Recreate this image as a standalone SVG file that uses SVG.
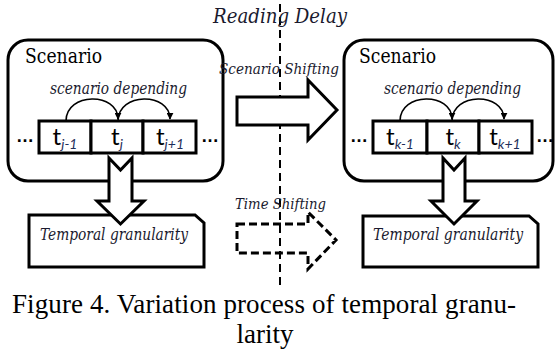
<svg xmlns="http://www.w3.org/2000/svg" width="556" height="358" viewBox="0 0 556 358">
<style>
.box{fill:#fff;stroke:#000;stroke-width:3}
.cell{fill:#fff;stroke:#000;stroke-width:3}
.arrow{fill:#fff;stroke:#000;stroke-width:3;stroke-linejoin:miter}
.darrow{fill:none;stroke:#000;stroke-width:3;stroke-dasharray:8 4}
.arc{fill:none;stroke:#000;stroke-width:1.6}
.lbl{font-family:"DejaVu Serif",serif;font-style:italic;fill:#1a1a2e}
.title{font-family:"DejaVu Serif",serif;font-size:20px;fill:#000}
.t{font-family:Lato,"Liberation Sans",sans-serif;font-size:24px;fill:#000}
.sub{font-size:14px;font-style:italic;fill:#1f2f5a}
.dots{font-family:"Liberation Sans",sans-serif;font-weight:bold;font-size:18px;fill:#000}
.cap{font-family:"Liberation Serif",serif;font-size:27px;fill:#000}
</style>
<defs>
<marker id="ah" viewBox="0 0 10 10" refX="9" refY="5" markerWidth="7" markerHeight="7" markerUnits="userSpaceOnUse" orient="auto">
<path d="M0,0 L10,5 L0,10 Z" fill="#000"/>
</marker>
</defs>

<g id="scenario-left">
<rect class="box" x="8" y="40" width="215" height="141" rx="20" ry="20"/>
<text class="title" x="25" y="63" textLength="77" lengthAdjust="spacingAndGlyphs">Scenario</text>
<text class="lbl" x="50" y="94" font-size="16" textLength="137" lengthAdjust="spacingAndGlyphs">scenario depending</text>
<rect class="cell" x="39" y="121" width="52" height="32"/>
<rect class="cell" x="91" y="121" width="52" height="32"/>
<rect class="cell" x="143" y="121" width="53" height="32"/>
<text class="t" x="65" y="145" text-anchor="middle">t<tspan class="sub" dy="4">j-1</tspan></text>
<text class="t" x="117" y="145" text-anchor="middle">t<tspan class="sub" dy="4">j</tspan></text>
<text class="t" x="170" y="145" text-anchor="middle">t<tspan class="sub" dy="4">j+1</tspan></text>
<text class="dots" x="25" y="142" text-anchor="middle">…</text>
<text class="dots" x="210" y="142" text-anchor="middle">…</text>
</g>

<g id="scenario-right">
<rect class="box" x="344" y="40" width="209" height="141" rx="20" ry="20"/>
<text class="title" x="359" y="63" textLength="77" lengthAdjust="spacingAndGlyphs">Scenario</text>
<text class="lbl" x="384" y="94" font-size="16" textLength="137" lengthAdjust="spacingAndGlyphs">scenario depending</text>
<rect class="cell" x="373" y="121" width="54" height="32"/>
<rect class="cell" x="427" y="121" width="52" height="32"/>
<rect class="cell" x="479" y="121" width="53" height="32"/>
<text class="t" x="400" y="145" text-anchor="middle">t<tspan class="sub" dy="4">k-1</tspan></text>
<text class="t" x="453" y="145" text-anchor="middle">t<tspan class="sub" dy="4">k</tspan></text>
<text class="t" x="505" y="145" text-anchor="middle">t<tspan class="sub" dy="4">k+1</tspan></text>
<text class="dots" x="359" y="142" text-anchor="middle">…</text>
<text class="dots" x="545" y="142" text-anchor="middle">…</text>
</g>

<g id="granularity-left">
<path class="box" d="M29,215 L195,215 L204,223 L204,267 L29,267 Z"/>
<text class="lbl" x="40" y="240" font-size="16" textLength="148" lengthAdjust="spacingAndGlyphs">Temporal granularity</text>
</g>

<g id="granularity-right">
<path class="box" d="M363,216 L529,216 L538,224 L538,267 L363,267 Z"/>
<text class="lbl" x="373" y="240" font-size="16" textLength="150" lengthAdjust="spacingAndGlyphs">Temporal granularity</text>
</g>

<g id="reading-delay">
<line x1="280" y1="4" x2="280" y2="287" stroke="#000" stroke-width="2" stroke-dasharray="8 5"/>
<text class="lbl" x="213" y="23" font-size="20" textLength="134" lengthAdjust="spacingAndGlyphs">Reading Delay</text>
</g>

<g id="connectors">
<path class="arc" d="M66,121 C66,92 118,92 118,119" marker-end="url(#ah)"/>
<path class="arc" d="M118,121 C118,92 170,92 170,119" marker-end="url(#ah)"/>
<path class="arc" d="M400,121 C400,92 452,92 452,119" marker-end="url(#ah)"/>
<path class="arc" d="M452,121 C452,92 504,92 504,119" marker-end="url(#ah)"/>
<polygon class="arrow" points="109,158 120.5,170 132,158 132,201 144,201 120.5,224 97,201 109,201"/>
<polygon class="arrow" points="443,158 454,170 465,158 465,201 477,201 454,224 431,201 443,201"/>
<polygon class="arrow" points="237,97 308,97 308,80 337,110 308,140 308,125 237,125"/>
<polygon class="darrow" points="237,224 308,224 308,212 336,240 308,269 308,253 237,253"/>
<text class="lbl" x="219" y="74" font-size="15" textLength="120" lengthAdjust="spacingAndGlyphs">Scenario Shifting</text>
<text class="lbl" x="235" y="209" font-size="15" textLength="91" lengthAdjust="spacingAndGlyphs">Time Shifting</text>
</g>

<g id="caption">
<text class="cap" x="12" y="313" textLength="504">Figure 4. Variation process of temporal granu-</text>
<text class="cap" x="265" y="343" text-anchor="middle">larity</text>
</g>
</svg>
